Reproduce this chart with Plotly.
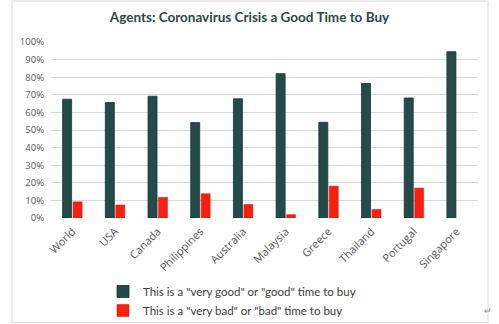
import plotly.graph_objects as go

countries = ["World", "USA", "Canada", "Philippines", "Australia", "Malaysia",
             "Greece", "Thailand", "Portugal", "Singapore"]
good = [67.5, 65.6, 69.2, 54.2, 67.7, 82.0, 54.4, 76.4, 68.2, 94.5]
bad = [9.2, 7.4, 11.7, 13.8, 7.7, 1.9, 18.1, 4.9, 17.0, None]
good_name = 'This is a "very good" or "good" time to buy'
bad_name = 'This is a "very bad" or "bad" time to buy'
y_ticks = [0, 10, 20, 30, 40, 50, 60, 70, 80, 90, 100]

W, H = 499, 324
L, R, T, B = 51, 21, 42, 106
pw, ph = W - L - R, H - T - B

fig = go.Figure()
fig.add_trace(go.Bar(x=countries, y=[v / 100 for v in good], name=good_name,
                     marker=dict(color="#224b4a", line=dict(color="#163332", width=0.8))))
fig.add_trace(go.Bar(x=countries, y=[None if v is None else v / 100 for v in bad], name=bad_name,
                     marker=dict(color="#fa2010", line=dict(color="#d01808", width=0.5))))

fig.update_layout(
    width=W, height=H,
    margin=dict(l=L, r=R, t=T, b=B, pad=0, autoexpand=False),
    paper_bgcolor="white", plot_bgcolor="white",
    barmode="group", bargap=0.51, bargroupgap=0.14,
    font=dict(family="Open Sans, Lato, sans-serif", color="#595959"),
    title=dict(text="<b>Agents: Coronavirus Crisis a Good Time to Buy</b>",
               x=0.5, xanchor="center", y=1 - 17 / H, yanchor="middle",
               font=dict(size=13.5, color="#2d4747", family="Lato, Open Sans, sans-serif")),
    xaxis=dict(tickangle=-45, tickfont=dict(size=11, color="#595959"),
               showgrid=False, showline=False, ticks="", ticklen=0, automargin=False,
               ticklabelstandoff=4),
    yaxis=dict(range=[0, 1.0], tickvals=[v / 100 for v in y_ticks],
               ticktext=[f"{v}%" for v in y_ticks],
               tickfont=dict(size=9.5, color="#595959"),
               gridcolor="#d9d9d9", gridwidth=1, showline=False, zeroline=False,
               ticks="", ticklabelstandoff=6, automargin=False),
    legend=dict(orientation="v", x=(103 - L) / pw, xanchor="left",
                y=(218 - 277) / ph, yanchor="top",
                font=dict(size=11.5, color="#404040", family="Lato, Open Sans, sans-serif"),
                itemwidth=30, tracegroupgap=0, bgcolor="rgba(0,0,0,0)"),
    showlegend=True,
)

# outer chart border
fig.add_shape(type="rect", xref="paper", yref="paper",
              x0=(12 - L) / pw, x1=(488 - L) / pw,
              y0=(H - B - 322.5) / ph, y1=(H - B - 1) / ph,
              line=dict(color="#d9d9d9", width=1), fillcolor="rgba(0,0,0,0)", layer="below")
fig.add_annotation(text="↵", xref="paper", yref="paper",
                   x=(494 - L) / pw, y=(H - B - 319) / ph, showarrow=False,
                   font=dict(size=9, color="#888888"))

fig.write_html("out.html")
